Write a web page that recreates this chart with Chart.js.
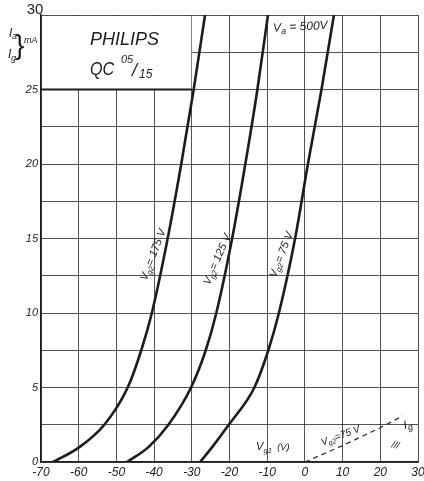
<!DOCTYPE html>
<html>
<head>
<meta charset="utf-8">
<script src="https://cdn.jsdelivr.net/npm/chart.js@4.4.0/dist/chart.umd.min.js"></script>
<style>
  html, body { margin: 0; padding: 0; background: #fff; }
  canvas { display: block; }
</style>
</head>
<body>
<canvas id="grafico" width="424" height="481"></canvas>
<script>
// Eixos
const xTicks = [-70, -60, -50, -40, -30, -20, -10, 0, 10, 20, 30];
const yTicks = [0, 5, 10, 15, 20, 25];

// Ia x Vg1 (Va = 500 V)
const vg175V = [-66.8, -59.8, -53.2, -47.0, -43.4, -40.6, -36.4, -32.8, -29.5, -26.5];
const vg175I = [0, 1, 2.5, 5, 7.5, 10, 15, 20, 25, 30];

const vg125V = [-47.2, -41.5, -36.2, -30.2, -26.3, -23.5, -19.3, -15.8, -12.6, -9.8];
const vg125I = [0, 1, 2.5, 5, 7.5, 10, 15, 20, 25, 30];

const vg75V = [-27.8, -24.6, -20.2, -13.4, -9.7, -6.9, -2.6, 0.8, 4.4, 7.7];
const vg75I = [0, 1, 2.5, 5, 7.5, 10, 15, 20, 25, 30];

// Ig (Vg2 = 75 V)
const igV = [0, 10, 20, 26];
const igI = [0, 1.1, 2.3, 3.1];

const FONTE = "'Liberation Sans', Arial, sans-serif";
const TINTA = '#1c1c1c';

function pontos(xs, ys) {
    return xs.map((v, i) => ({ x: v, y: ys[i] }));
}

function curva(xs, ys) {
    return {
        data: pontos(xs, ys),
        showLine: true,
        borderColor: TINTA,
        borderWidth: 2.6,
        pointRadius: 0,
        cubicInterpolationMode: 'monotone',
        fill: false
    };
}

// texto com indices: partes = [[texto, escala, deslocamento]]
function textoRico(ctx, partes, x, y, tam, ang) {
    ctx.save();
    ctx.translate(x, y);
    ctx.rotate(ang || 0);
    let largura = 0;
    partes.forEach(p => {
        ctx.font = `italic ${tam * p[1]}px ${FONTE}`;
        largura += ctx.measureText(p[0]).width;
    });
    let cx = -largura / 2;
    ctx.fillStyle = TINTA;
    ctx.textBaseline = 'middle';
    ctx.textAlign = 'left';
    partes.forEach(p => {
        ctx.font = `italic ${tam * p[1]}px ${FONTE}`;
        ctx.fillText(p[0], cx, p[2] * tam);
        cx += ctx.measureText(p[0]).width;
    });
    ctx.restore();
}

const fundoBranco = {
    id: 'fundoBranco',
    beforeDraw(chart) {
        const c = chart.ctx;
        c.save();
        c.fillStyle = '#fff';
        c.fillRect(0, 0, chart.width, chart.height);
        c.restore();
    }
};

// Caixa do titulo (sem grade)
const caixaTitulo = {
    id: 'caixaTitulo',
    beforeDatasetsDraw(chart) {
        const { ctx, scales: { x, y } } = chart;
        const l = x.getPixelForValue(-70), r = x.getPixelForValue(-30);
        const t = y.getPixelForValue(30), b = y.getPixelForValue(25);
        ctx.save();
        ctx.fillStyle = '#fff';
        ctx.fillRect(l + 1, t + 1, r - l - 1.5, b - t - 1.5);
        ctx.strokeStyle = TINTA;
        ctx.lineWidth = 2;
        ctx.beginPath();
        ctx.moveTo(l, b);
        ctx.lineTo(r, b);
        ctx.stroke();

        ctx.fillStyle = TINTA;
        ctx.textBaseline = 'alphabetic';
        ctx.textAlign = 'left';
        ctx.font = `italic 18px ${FONTE}`;
        ctx.fillText('PHILIPS', 90, 45);
        ctx.save();
        ctx.translate(90, 75);
        ctx.scale(0.85, 1);
        ctx.font = `italic 19px ${FONTE}`;
        ctx.fillText('QC', 0, 0);
        ctx.restore();
        ctx.font = `italic 11px ${FONTE}`;
        ctx.fillText('05', 121, 63);
        ctx.font = `italic 18px ${FONTE}`;
        ctx.fillText('/', 132, 76);
        ctx.font = `italic 12px ${FONTE}`;
        ctx.fillText('15', 139, 78);
        ctx.restore();
    }
};

const rotulos = {
    id: 'rotulos',
    afterDatasetsDraw(chart) {
        const { ctx, scales: { x, y } } = chart;
        const px = v => x.getPixelForValue(v);
        const py = v => y.getPixelForValue(v);

        // titulo do eixo y e o 30 do topo
        ctx.save();
        ctx.fillStyle = TINTA;
        ctx.textBaseline = 'alphabetic';
        ctx.textAlign = 'center';
        ctx.font = `15px ${FONTE}`;
        ctx.fillText('30', 35, 14);
        ctx.textAlign = 'left';
        ctx.font = `italic 12px ${FONTE}`;
        ctx.fillText('I', 9, 37);
        ctx.fillText('I', 8, 58);
        ctx.font = `italic 9px ${FONTE}`;
        ctx.fillText('a', 12, 39);
        ctx.fillText('g', 11, 61);
        ctx.font = `italic 9px ${FONTE}`;
        ctx.fillText('mA', 24, 43);
        ctx.font = `28px ${FONTE}`;
        ctx.fillText('}', 15, 54);
        ctx.restore();

        textoRico(ctx, [['V', 1, 0], ['a', 0.75, 0.3], [' = 500V', 1, 0]], px(-1.2), py(29.2), 12, -0.05);

        textoRico(ctx, [['V', 1, 0], ['g2', 0.7, 0.3], ['= 175 V', 1, 0]], px(-40.2), py(13.9), 11, -1.2);
        textoRico(ctx, [['V', 1, 0], ['g2', 0.7, 0.3], ['= 125 V', 1, 0]], px(-23.2), py(13.6), 11, -1.16);
        textoRico(ctx, [['V', 1, 0], ['g2', 0.7, 0.3], ['= 75 V', 1, 0]], px(-6.2), py(13.9), 11, -1.2);

        textoRico(ctx, [['V', 1, 0], ['g1', 0.7, 0.3], ['  (V)', 0.85, 0]], px(-8.5), py(1.0), 11, 0);
        textoRico(ctx, [['V', 1, 0], ['g2', 0.7, 0.3], ['=75 V', 1, 0]], px(9.5), py(1.75), 10, -0.36);
        textoRico(ctx, [['I', 1, 0], ['g', 0.75, 0.3]], px(27.3), py(2.5), 12, -0.3);
        textoRico(ctx, [['///', 1, 0]], px(24), py(1.1), 9, 0.2);
    }
};

new Chart(document.getElementById('grafico').getContext('2d'), {
    type: 'scatter',
    data: {
        datasets: [
            curva(vg175V, vg175I),
            curva(vg125V, vg125I),
            curva(vg75V, vg75I),
            Object.assign(curva(igV, igI), {
                borderWidth: 1.3,
                borderDash: [5, 4],
                borderColor: '#333',
                cubicInterpolationMode: 'default',
                tension: 0
            })
        ]
    },
    options: {
        responsive: false,
        animation: false,
        layout: { padding: { top: 15, right: 6, left: 0, bottom: 0 } },
        plugins: {
            legend: { display: false },
            tooltip: { enabled: false }
        },
        scales: {
            x: {
                type: 'linear',
                min: -70,
                max: 30,
                ticks: {
                    stepSize: 10,
                    padding: 3,
                    color: TINTA,
                    font: { family: FONTE, style: 'italic', size: 12 },
                    callback: v => xTicks.includes(v) ? String(v) : ''
                },
                grid: { color: 'rgba(40,40,40,0.8)', lineWidth: 1, drawTicks: false },
                border: { color: TINTA, width: 1.5 },
                afterFit(s) { s.height = 19; s.paddingLeft = 0; s.paddingRight = 0; }
            },
            y: {
                type: 'linear',
                min: 0,
                max: 30,
                ticks: {
                    stepSize: 2.5,
                    padding: 3,
                    color: TINTA,
                    font: { family: FONTE, style: 'italic', size: 11 },
                    callback: v => yTicks.includes(v) ? String(v) : ''
                },
                grid: { color: 'rgba(40,40,40,0.8)', lineWidth: 1, drawTicks: false },
                border: { color: TINTA, width: 1.5 },
                afterFit(s) { s.width = 41; s.paddingTop = 0; s.paddingBottom = 0; }
            }
        }
    },
    plugins: [fundoBranco, caixaTitulo, rotulos]
});
</script>
</body>
</html>
